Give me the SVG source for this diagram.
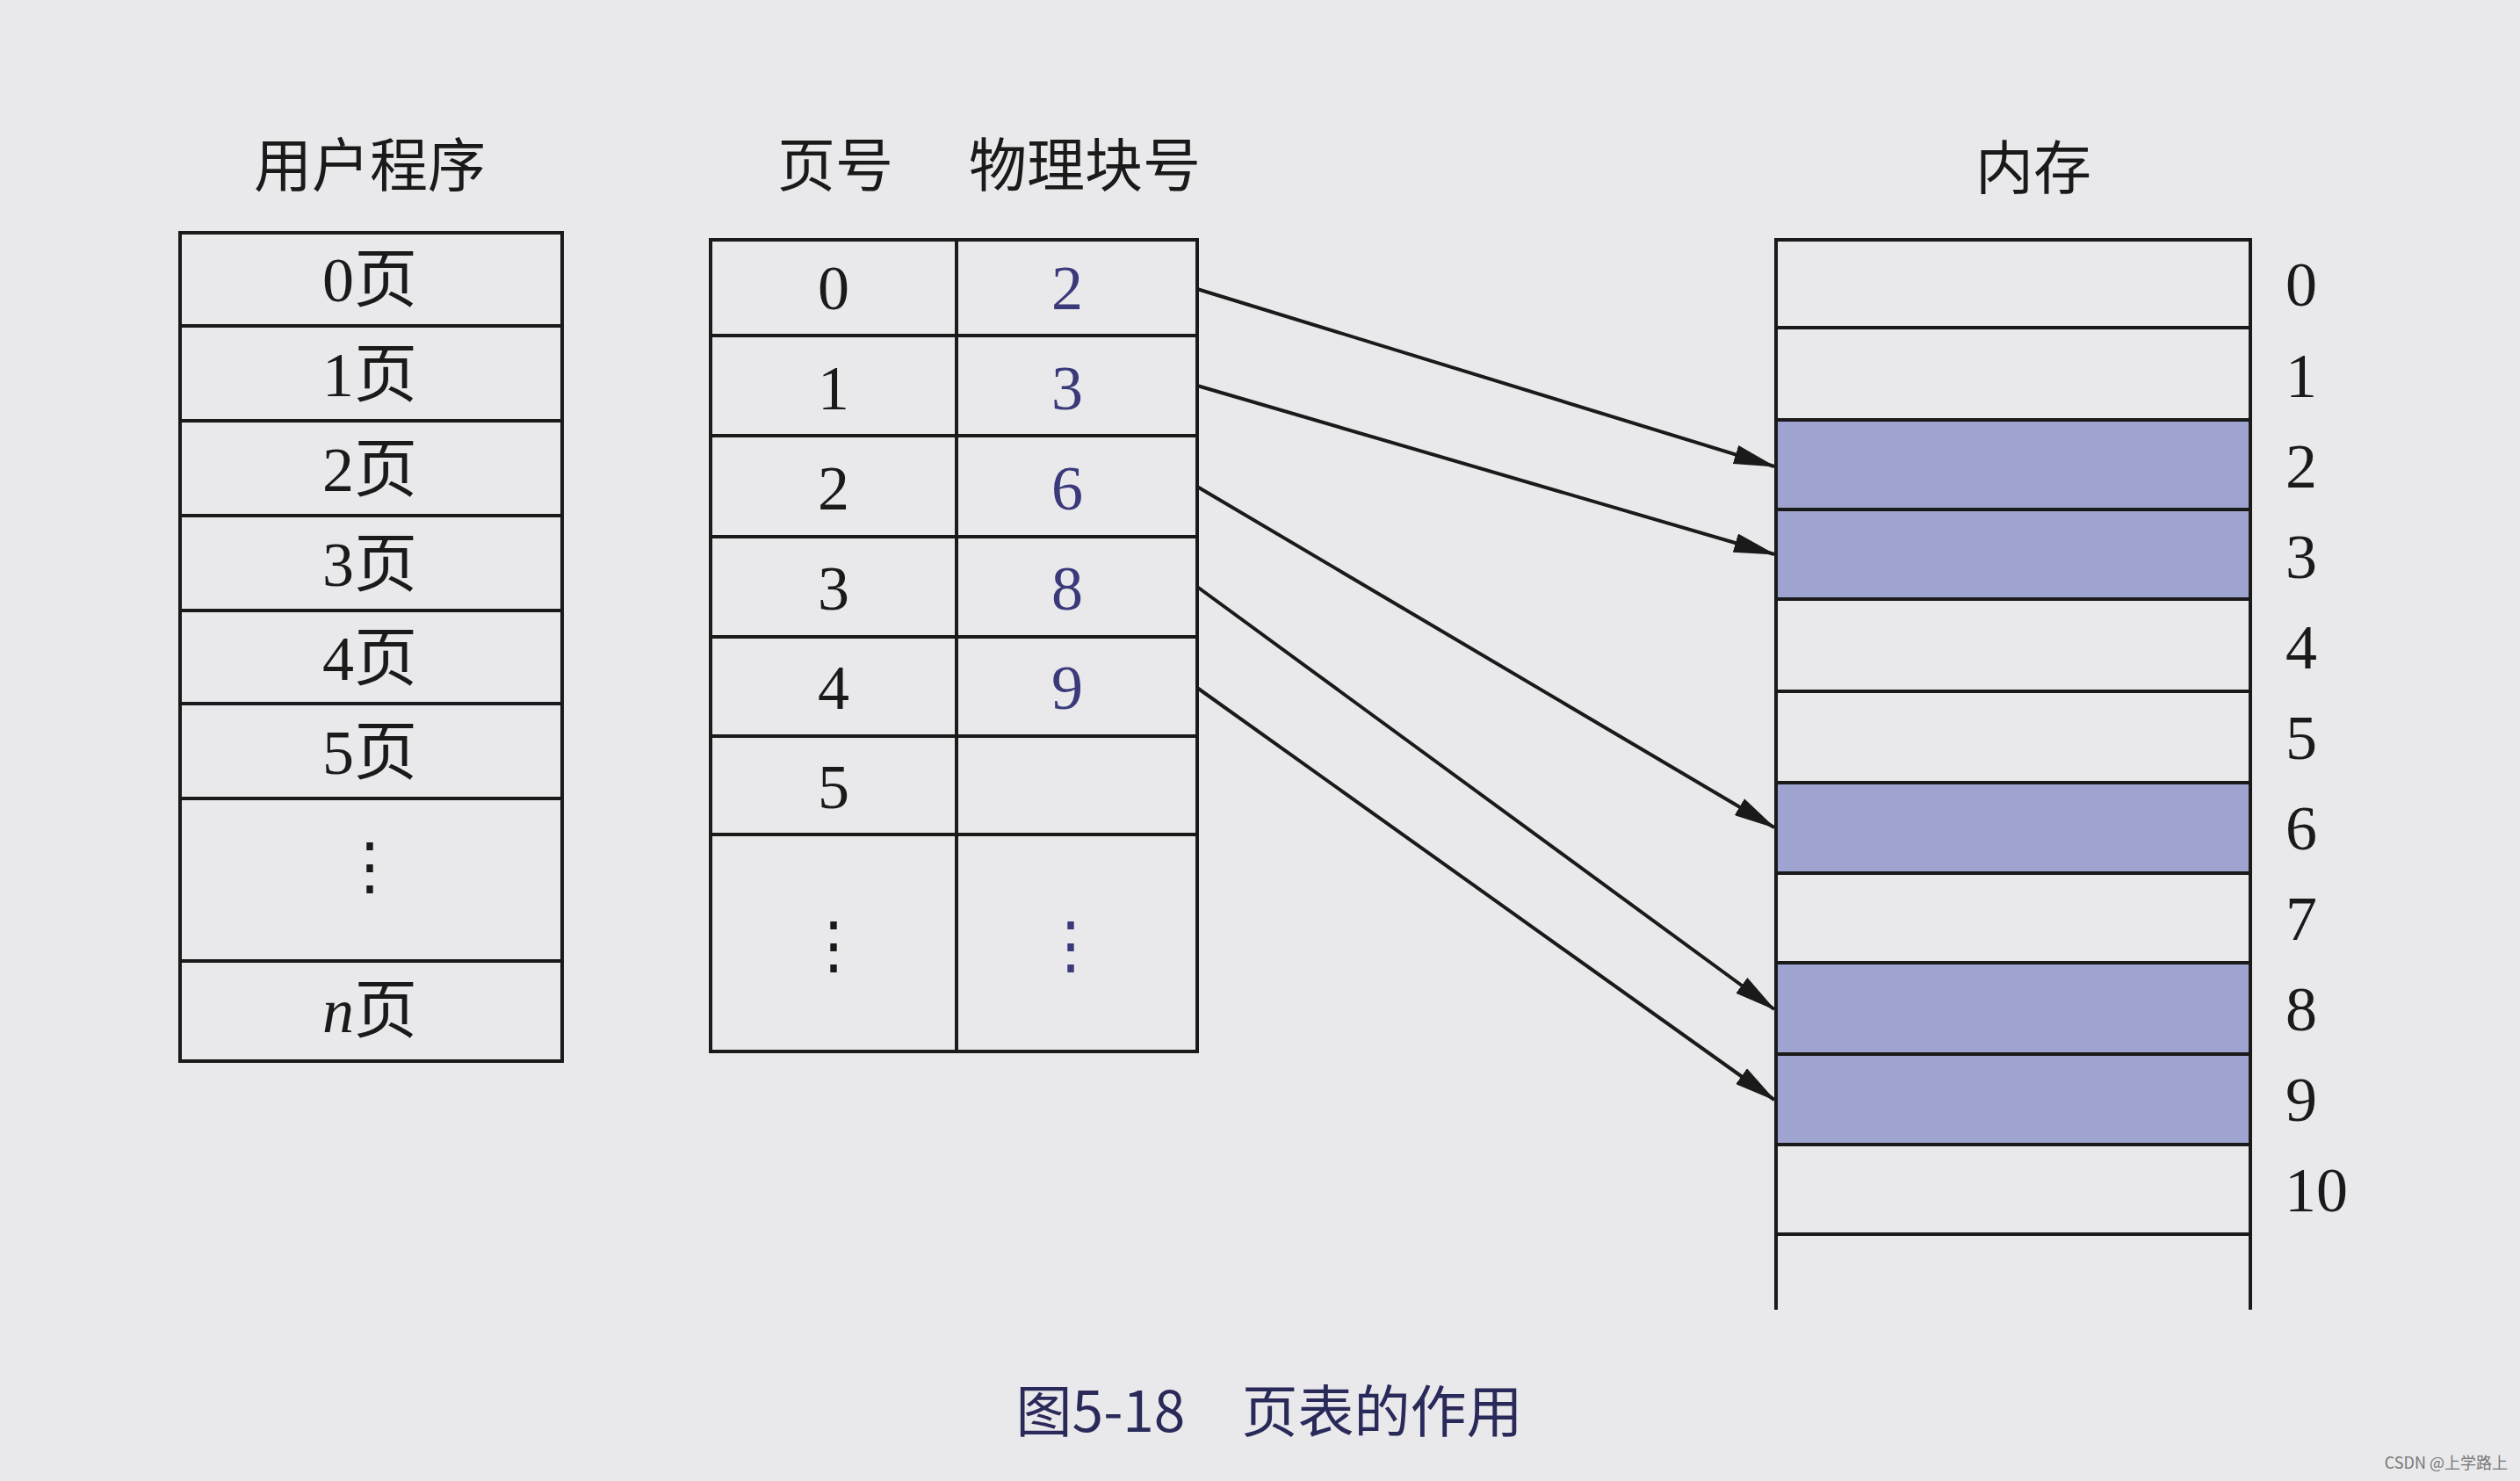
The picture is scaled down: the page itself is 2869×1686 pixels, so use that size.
<svg xmlns="http://www.w3.org/2000/svg" width="2869" height="1686" viewBox="0 0 2869 1686">
<defs>
<style>
.b{fill:none;stroke:#1a1a1a;stroke-width:4}
.t{font-family:"Liberation Serif","Noto Sans CJK SC",serif;font-size:72px;fill:#1a1a1a;text-anchor:middle}
.p{fill:#3a3a7a}
.h{font-family:"Noto Sans CJK SC",sans-serif;font-size:66px;fill:#1a1a1a;text-anchor:middle}
.sh{fill:#9ea3cf;stroke:#1a1a1a;stroke-width:4}
.a{stroke:#1a1a1a;stroke-width:4;marker-end:url(#ah)}
</style>
<marker id="ah" markerWidth="48" markerHeight="22" refX="46" refY="11" orient="auto" markerUnits="userSpaceOnUse" viewBox="0 0 48 22">
<path d="M0,0 L48,11 L0,22 Z" fill="#1a1a1a"/>
</marker>
</defs>
<rect width="2869" height="1686" fill="#e9e9ec"/>
<g id="user-program">
<text class="h" x="421" y="212">用户程序</text>
<rect class="b" x="205" y="265" width="435" height="943"/>
<path class="b" d="M205,371H640M205,479H640M205,587H640M205,695H640M205,801H640M205,909H640M205,1094H640"/>
<text class="t" x="421" y="343">0页</text>
<text class="t" x="421" y="451">1页</text>
<text class="t" x="421" y="559">2页</text>
<text class="t" x="421" y="667">3页</text>
<text class="t" x="421" y="774">4页</text>
<text class="t" x="421" y="881">5页</text>
<text class="t" x="421" y="1010">⋮</text>
<text class="t" x="421" y="1175"><tspan font-style="italic">n</tspan>页</text>
</g>
<g id="page-table">
<text class="h" x="951" y="212">页号</text>
<text class="h p" x="1235" y="212">物理块号</text>
<rect class="b" x="809" y="273" width="554" height="924"/>
<path class="b" d="M1089,273V1197M809,382H1363M809,496H1363M809,611H1363M809,725H1363M809,838H1363M809,950H1363"/>
<text class="t" x="949" y="352">0</text><text class="t p" x="1215" y="352">2</text>
<text class="t" x="949" y="466">1</text><text class="t p" x="1215" y="466">3</text>
<text class="t" x="949" y="580">2</text><text class="t p" x="1215" y="580">6</text>
<text class="t" x="949" y="694">3</text><text class="t p" x="1215" y="694">8</text>
<text class="t" x="949" y="807">4</text><text class="t p" x="1215" y="807">9</text>
<text class="t" x="949" y="920">5</text>
<text class="t" x="949" y="1100">⋮</text><text class="t p" x="1219" y="1100">⋮</text>
</g>
<g id="memory">
<text class="h" x="2315" y="215">内存</text>
<rect class="sh" x="2022" y="478" width="540" height="204"/>
<rect class="sh" x="2022" y="891" width="540" height="103"/>
<rect class="sh" x="2022" y="1096" width="540" height="207"/>
<path class="b" d="M2022,1491V273H2562V1491M2022,373H2562M2022,478H2562M2022,580H2562M2022,682H2562M2022,787H2562M2022,891H2562M2022,994H2562M2022,1096H2562M2022,1200H2562M2022,1303H2562M2022,1405H2562"/>
<g class="t">
<text x="2620" y="348">0</text><text x="2620" y="452">1</text><text x="2620" y="555">2</text><text x="2620" y="658">3</text><text x="2620" y="761">4</text><text x="2620" y="864">5</text><text x="2620" y="967">6</text><text x="2620" y="1070">7</text><text x="2620" y="1173">8</text><text x="2620" y="1276">9</text><text x="2637" y="1379">10</text>
</g>
</g>
<g id="connectors">
<line class="a" x1="1363" y1="329" x2="2020" y2="531"/>
<line class="a" x1="1363" y1="439" x2="2020" y2="631"/>
<line class="a" x1="1363" y1="554" x2="2020" y2="942"/>
<line class="a" x1="1363" y1="668" x2="2020" y2="1149"/>
<line class="a" x1="1363" y1="783" x2="2020" y2="1252"/>
</g>
<text x="1445" y="1630" font-family="Noto Sans CJK SC,sans-serif" font-size="64" fill="#2a2a5a" text-anchor="middle">图5-18　页表的作用</text>
<text x="2855" y="1672" font-family="Noto Sans CJK SC,sans-serif" font-size="18" fill="#777" text-anchor="end">CSDN @上学路上</text>
</svg>
